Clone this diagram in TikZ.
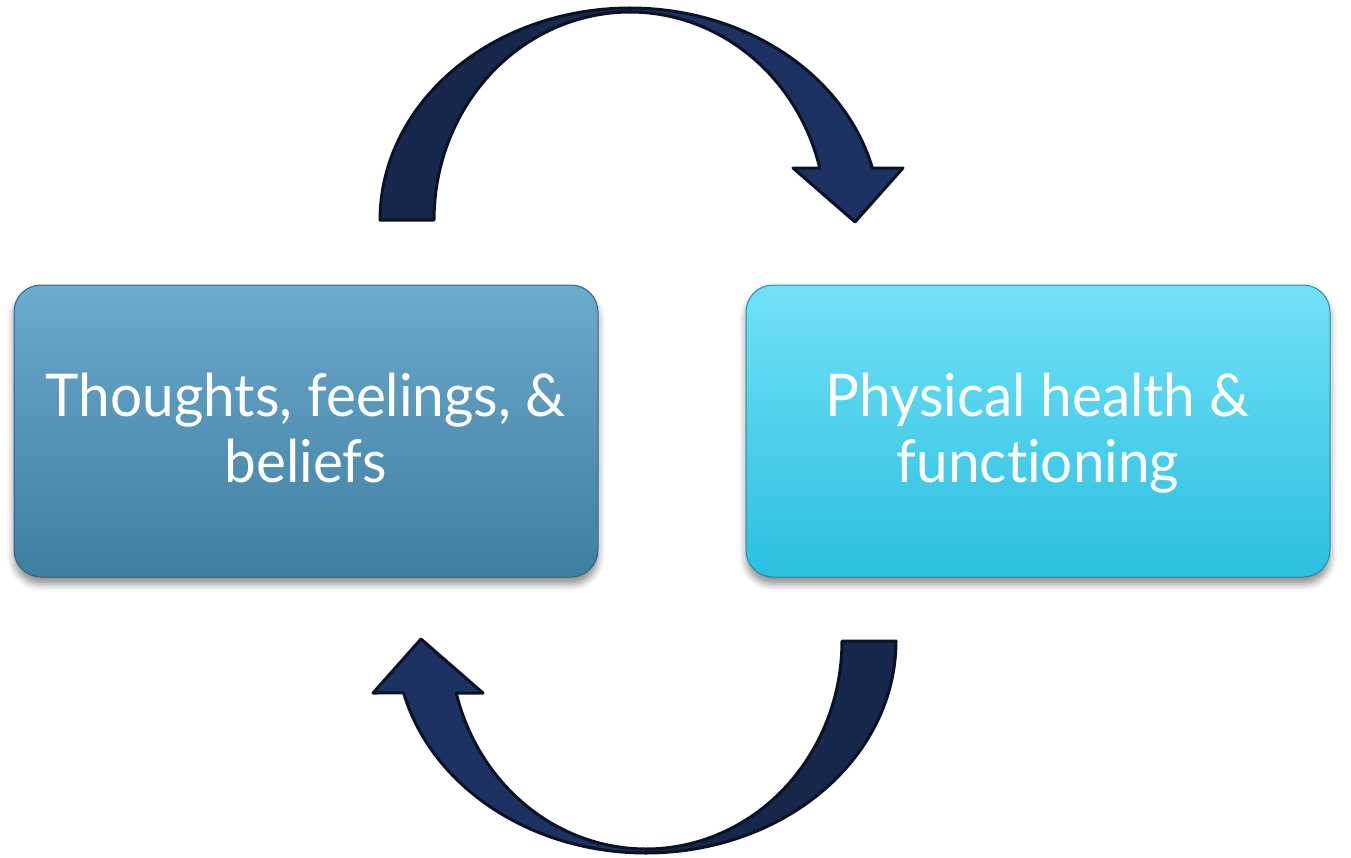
\documentclass[tikz,border=0pt]{standalone}
\usepackage{fontspec}
\setmainfont[Ligatures=NoCommon, FakeStretch=0.96]{Lato}
\usetikzlibrary{shadows.blur}

\definecolor{navyback}{HTML}{16284C}
\definecolor{navyfront}{HTML}{1B3262}
\definecolor{navyline}{HTML}{0A1326}
\definecolor{steeltop}{HTML}{6CAACE}
\definecolor{steelbot}{HTML}{3E7E9F}
\definecolor{cyantop}{HTML}{72E1F7}
\definecolor{cyanbot}{HTML}{2ABFE0}

\tikzset{
  band/.style={draw=navyline, line width=3pt, line join=round},
  card/.style={rounded corners=27pt, minimum width=584pt, minimum height=292pt,
    inner sep=0pt,
    blur shadow={shadow xshift=0pt, shadow yshift=-7pt,
      shadow blur radius=7pt, shadow opacity=45}},
  cardtext/.style={text=white, align=center, inner sep=0pt, anchor=north,
    font=\fontsize{59}{66}\selectfont},
  % half-loop arrow: tail band on the left, head band on the right
  pics/loopband/.style={code={
    \path[band, fill=navyback]
      plot[domain=180:90, samples=60] ({630+250*cos(\x)},{220-212*sin(\x)})
      -- plot[domain=90:180, samples=60] ({630+196*cos(\x)},{220-208*sin(\x)})
      -- cycle;
    \path[band, fill=navyfront]
      plot[domain=90:14.18, samples=60] ({630+250*cos(\x)},{220-212*sin(\x)})
      -- (903,168) -- (855,222) -- (793,168)
      -- plot[domain=14.48:90, samples=60] ({630+196*cos(\x)},{220-208*sin(\x)})
      -- cycle;
  }}
}

\begin{document}
\begin{tikzpicture}[x=1pt, y=-1pt]
  \useasboundingbox (0,0) rectangle (1351,857);

  % the two boxes
  \node[card, top color=steeltop, bottom color=steelbot,
        draw=steelbot!80!black, line width=1pt] (thoughts) at (306,431) {};
  \node[card, top color=cyantop, bottom color=cyanbot,
        draw=cyanbot!75!black, line width=1pt] (physical) at (1038,431) {};

  \node[cardtext] (thoughtstext) at ([yshift=58pt]thoughts.center)
    {Thoughts, feelings, \&\\beliefs};
  \node[cardtext] (physicaltext) at ([yshift=58pt]physical.center)
    {Physical health \&\\functioning};

  % upper arrow, and the lower one turned half a revolution
  \pic at (0,0) {loopband};
  \pic[rotate=180] at (1276,861) {loopband};
\end{tikzpicture}
\end{document}
